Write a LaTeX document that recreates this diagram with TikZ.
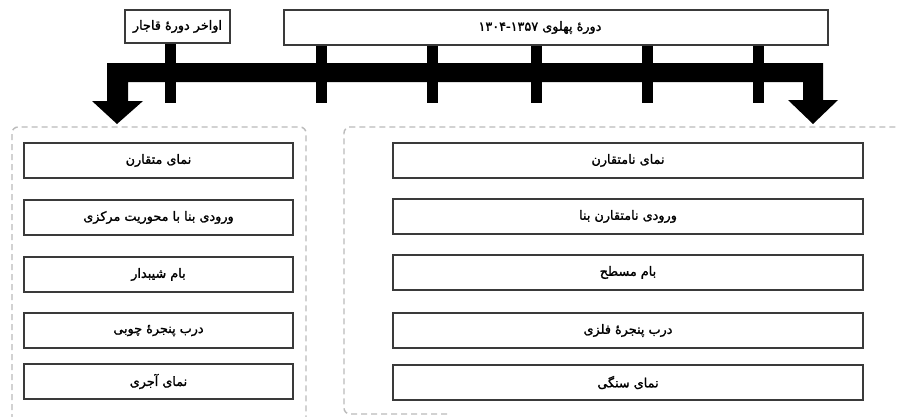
\documentclass[tikz,border=0pt]{standalone}
\usepackage{fontspec}
\TeXXeTstate=1
\newfontfamily\arabicfont[Script=Arabic,FakeBold=1.5]{DejaVu Sans}
\newcommand\fatext[1]{\raisebox{-2pt}{\beginR #1\endR}}
\definecolor{boxline}{HTML}{3A3A3A}
\definecolor{dashgrey}{HTML}{BBBBBB}
\tikzset{
  itembox/.style={draw=boxline, line width=1.2pt, fill=white, minimum height=35pt, inner sep=0pt,
    font=\arabicfont\fontsize{12.8}{14}\selectfont},
  leftitem/.style={itembox, minimum width=269pt},
  rightitem/.style={itembox, minimum width=470pt},
  headbox/.style={draw=boxline, line width=1.2pt, fill=white, inner sep=0pt,
    font=\arabicfont\fontsize{12.8}{14}\selectfont},
  groupbox/.style={draw=dashgrey, line width=1.4pt, dash pattern=on 6pt off 4pt, rounded corners=6pt},
  tickbar/.style={fill=black, draw=none},
}
\begin{document}
\begin{tikzpicture}[x=1pt,y=-1pt]
\useasboundingbox (0,0) rectangle (897,416);
\clip (0,0) rectangle (897,416);
\fill[white] (0,0) rectangle (897,416);

% dashed group boxes
\draw[groupbox] (12,440) -- (12,127) -- (306,127) -- (306,440);
\draw[groupbox] (447,414) -- (344,414) -- (344,127) -- (920,127);

% ticks
\fill[tickbar] (164.5,40) rectangle (175.5,103);
\foreach \cx in {321,432,536,647,758}{
  \fill[tickbar] ({\cx-5.5},40) rectangle ({\cx+5.5},102.5);
}

% heavy arrow bar
\fill[black] (117,124) -- (143,101) -- (128,101) -- (128,82) -- (803,82) -- (803,100)
  -- (788,100) -- (813,124) -- (838,100) -- (823,100) -- (823,63) -- (107,63)
  -- (107,101) -- (92,101) -- cycle;

% header boxes
\node[headbox, minimum width=105pt, minimum height=33pt] (qajar) at (177.5,26.5)
  {\fatext{اواخر دورهٔ قاجار}};
\node[headbox, minimum width=544pt, minimum height=35pt] (pahlavi) at (556,27.5)
  {\fatext{دورهٔ پهلوی \beginL۱۳۰۴-۱۳۵۷\endL}\kern32pt};

% left items
\node[leftitem] (l1) at (158.5,160.5) {\fatext{نمای متقارن}};
\node[leftitem] (l2) at (158.5,217.5) {\fatext{ورودی بنا با محوریت مرکزی}};
\node[leftitem] (l3) at (158.5,274.5) {\fatext{بام شیبدار}};
\node[leftitem] (l4) at (158.5,330.5) {\fatext{درب پنجرهٔ چوبی}};
\node[leftitem] (l5) at (158.5,381.5) {\fatext{نمای آجری}};

% right items
\node[rightitem] (r1) at (628,160.5) {\fatext{نمای نامتقارن}};
\node[rightitem] (r2) at (628,216.5) {\fatext{ورودی نامتقارن بنا}};
\node[rightitem] (r3) at (628,272.5) {\fatext{بام مسطح}};
\node[rightitem] (r4) at (628,330.5) {\fatext{درب پنجرهٔ فلزی}};
\node[rightitem] (r5) at (628,382.5) {\fatext{نمای سنگی}};
\end{tikzpicture}
\end{document}
